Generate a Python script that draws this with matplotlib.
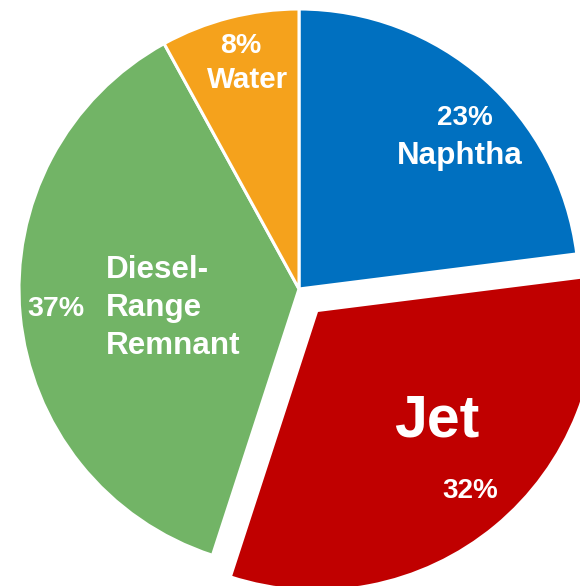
import matplotlib
matplotlib.use("Agg")
import matplotlib.pyplot as plt

# Product split of the upgraded fraction
categories = ["Naphtha", "Jet", "Diesel-\nRange\nRemnant", "Water"]
shares = [23, 32, 37, 8]
colors = ["#0070C0", "#C00000", "#72B466", "#F5A21C"]
explode = [0.0, 0.1, 0.0, 0.0]

W, H = 580, 586
CX, CY, R = 299, 289, 280  # pie centre / radius in pixels


def px(x, y):
    """Pixel position (origin top-left) -> data coords of a unit pie."""
    return (x - CX) / R, (CY - y) / R


fig = plt.figure(figsize=(W / 100, H / 100), dpi=100)
ax = fig.add_axes([0, 0, 1, 1])
ax.pie(shares, colors=colors, explode=explode, startangle=90,
       counterclock=False, radius=1.0,
       wedgeprops=dict(edgecolor="white", linewidth=2.2))
ax.set_xlim(px(0, 0)[0], px(W, 0)[0])
ax.set_ylim(px(0, H)[1], px(0, 0)[1])
ax.set_aspect("equal")
ax.axis("off")

font = dict(family="Liberation Sans", weight="bold", color="white")
pct = [f"{s}%" for s in shares]

# Naphtha
ax.text(*px(465, 118), pct[0], ha="center", va="center", fontsize=20, **font)
ax.text(*px(460, 156), categories[0], ha="center", va="center", fontsize=22.6, **font)
# Jet
ax.text(*px(437, 421), categories[1], ha="center", va="center", fontsize=42.5, **font)
ax.text(*px(470, 491), pct[1], ha="center", va="center", fontsize=20, **font)
# Diesel-range remnant
ax.text(*px(106, 308), categories[2], ha="left", va="center", fontsize=22.6,
        linespacing=1.35, **font)
ax.text(*px(56, 309), pct[2], ha="center", va="center", fontsize=20.5, **font)
# Water
ax.text(*px(241, 46), pct[3], ha="center", va="center", fontsize=20.5, **font)
ax.text(*px(248, 80), categories[3], ha="center", va="center", fontsize=21.3, **font)

fig.savefig("out.png", dpi=100, facecolor="white")
